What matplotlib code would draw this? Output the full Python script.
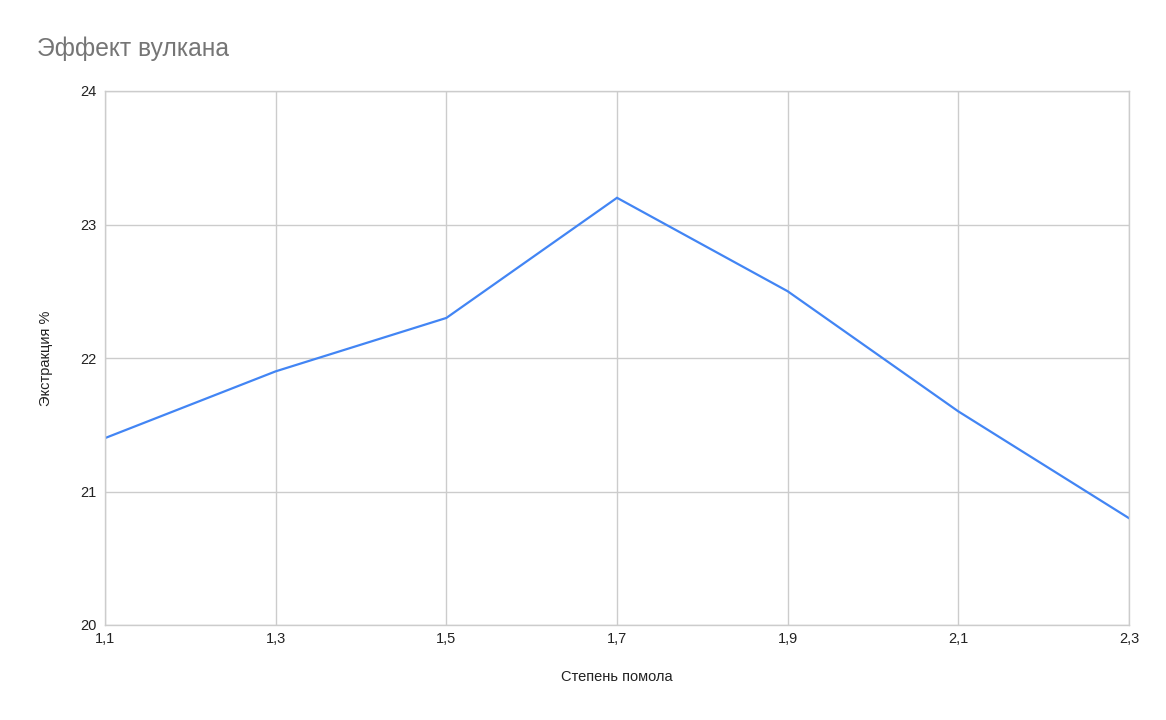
import matplotlib
matplotlib.use("Agg")
import matplotlib.pyplot as plt

grind = ["1,1", "1,3", "1,5", "1,7", "1,9", "2,1", "2,3"]
extraction = [21.4, 21.9, 22.3, 23.2, 22.5, 21.6, 20.8]
yticks = [20, 21, 22, 23, 24]

plt.rcParams['font.family'] = ['Liberation Sans', 'DejaVu Sans']

fig = plt.figure(figsize=(11.66, 7.2), dpi=100)
ax = fig.add_axes([105/1166, 1-625/720, (1129-105)/1166, (625-91)/720])

x = list(range(len(grind)))
ax.plot(x, extraction, color='#4285F4', linewidth=1.6, solid_joinstyle='miter')

ax.set_xlim(0, len(grind)-1)
ax.set_ylim(20, 24)
ax.set_xticks(x)
ax.set_xticklabels(grind)
ax.set_yticks(yticks)
ax.set_yticklabels([str(v) for v in yticks])
ax.grid(True, color='#cccccc', linewidth=1.0)
ax.set_axisbelow(True)
for s in ax.spines.values():
    s.set_color('#cccccc')
    s.set_linewidth(1.0)
ax.tick_params(axis='both', length=0, labelsize=10.5, colors='#222222')
ax.tick_params(axis='x', pad=5)
ax.tick_params(axis='y', pad=6)

ax.set_xlabel('Степень помола', fontsize=10.5, color='#222222', labelpad=17)
ax.set_ylabel('Экстракция %', fontsize=10.5, color='#222222', labelpad=20)

fig.text(37/1166, 1-56/720, 'Эффект вулкана', fontsize=17.7, color='#757575',
         ha='left', va='baseline')

fig.savefig('out.png', dpi=100, facecolor='white')
